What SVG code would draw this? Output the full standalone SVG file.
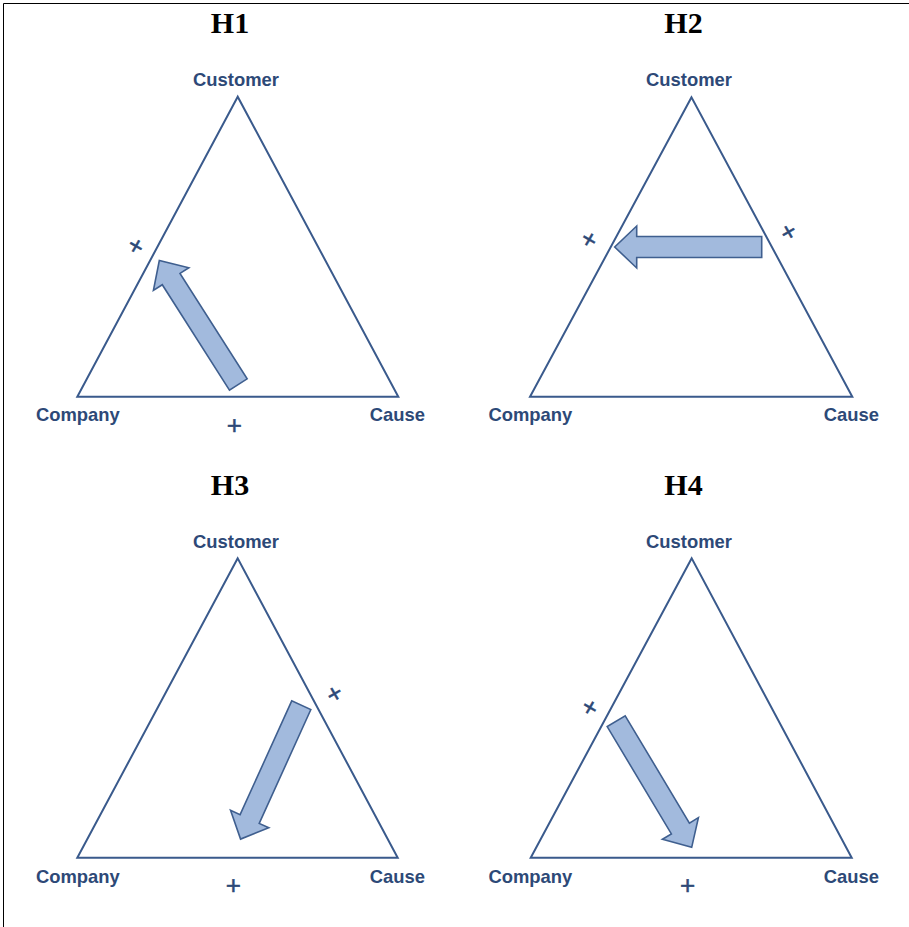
<svg xmlns="http://www.w3.org/2000/svg" xmlns:xlink="http://www.w3.org/1999/xlink" width="909" height="927" viewBox="0 0 909 927">
  <style>
    .frame { stroke: #000; stroke-width: 1; fill: none; }
    .tri { fill: none; stroke: #3a5a8c; stroke-width: 2; stroke-linejoin: miter; }
    .title { font-family: "Liberation Serif", "Times New Roman", serif; font-weight: bold; font-size: 30px; fill: #000; text-anchor: middle; }
    .lbl { font-family: "Liberation Sans", Arial, sans-serif; font-weight: bold; font-size: 18.4px; fill: #2d4977; }
    .mk { font-family: "Liberation Sans", Arial, sans-serif; font-size: 26px; fill: #2d4977; stroke: #2d4977; stroke-width: 0.5; text-anchor: middle; }
    .arrow { fill: #a2badd; stroke: #3f5f8f; stroke-width: 1.6; stroke-linejoin: miter; }
  </style>
  <defs>
    <!-- block arrow: tail centre at origin, tip at (147,0) -->
    <path id="blockArrow" d="M0,-10.5 H125 V-21 L147,0 L125,21 V10.5 H0 Z"/>
  </defs>

  <rect width="909" height="927" fill="#fff"/>
  <path class="frame" d="M3.5,930 V3.5 H912"/>

  <g id="h1">
    <text class="title" x="230" y="33">H1</text>
    <polygon class="tri" points="237.7,96.7 77.3,396.7 398.3,396.7"/>
    <g id="h1-customer"><text class="lbl" x="236" y="86" text-anchor="middle">Customer</text></g>
    <g id="h1-company"><text class="lbl" x="36" y="421">Company</text></g>
    <g id="h1-cause"><text class="lbl" x="425" y="421" text-anchor="end">Cause</text></g>
    <text class="mk" transform="translate(136,245.7) rotate(30)" y="9">+</text>
    <text class="mk" transform="translate(234.3,425)" y="9">+</text>
  </g>

  <g id="h2">
    <text class="title" x="683.5" y="33">H2</text>
    <polygon class="tri" points="691.5,97.3 530,396.7 852.3,396.7"/>
    <g id="h2-customer"><text class="lbl" x="689" y="86" text-anchor="middle">Customer</text></g>
    <g id="h2-company"><text class="lbl" x="488.5" y="421">Company</text></g>
    <g id="h2-cause"><text class="lbl" x="879" y="421" text-anchor="end">Cause</text></g>
    <text class="mk" transform="translate(589.3,239.3) rotate(30)" y="9">+</text>
    <text class="mk" transform="translate(788.3,231.7) rotate(-30)" y="9">+</text>
  </g>

  <g id="h3">
    <text class="title" x="230" y="495">H3</text>
    <polygon class="tri" points="237.7,558.3 77.3,857.7 397.7,857.7"/>
    <g id="h3-customer"><text class="lbl" x="236" y="548" text-anchor="middle">Customer</text></g>
    <g id="h3-company"><text class="lbl" x="36" y="883">Company</text></g>
    <g id="h3-cause"><text class="lbl" x="425" y="883" text-anchor="end">Cause</text></g>
    <text class="mk" transform="translate(334.3,693.3) rotate(-30)" y="9">+</text>
    <text class="mk" transform="translate(233.3,885)" y="9">+</text>
  </g>

  <g id="h4">
    <text class="title" x="683.5" y="495">H4</text>
    <polygon class="tri" points="691.7,558.3 530.7,857.7 851.7,857.7"/>
    <g id="h4-customer"><text class="lbl" x="689" y="548" text-anchor="middle">Customer</text></g>
    <g id="h4-company"><text class="lbl" x="488.5" y="883">Company</text></g>
    <g id="h4-cause"><text class="lbl" x="879" y="883" text-anchor="end">Cause</text></g>
    <text class="mk" transform="translate(590,707.3) rotate(30)" y="9">+</text>
    <text class="mk" transform="translate(687.7,885)" y="9">+</text>
  </g>

  <g id="arrows">
    <use class="arrow" xlink:href="#blockArrow" transform="translate(238.3,384.5) rotate(-122.5)"/>
    <use class="arrow" xlink:href="#blockArrow" transform="translate(761.7,247) rotate(180)"/>
    <use class="arrow" xlink:href="#blockArrow" transform="translate(301.3,705.2) rotate(114.4)"/>
    <use class="arrow" xlink:href="#blockArrow" transform="translate(616.2,721.2) rotate(59.1)"/>
  </g>
</svg>
